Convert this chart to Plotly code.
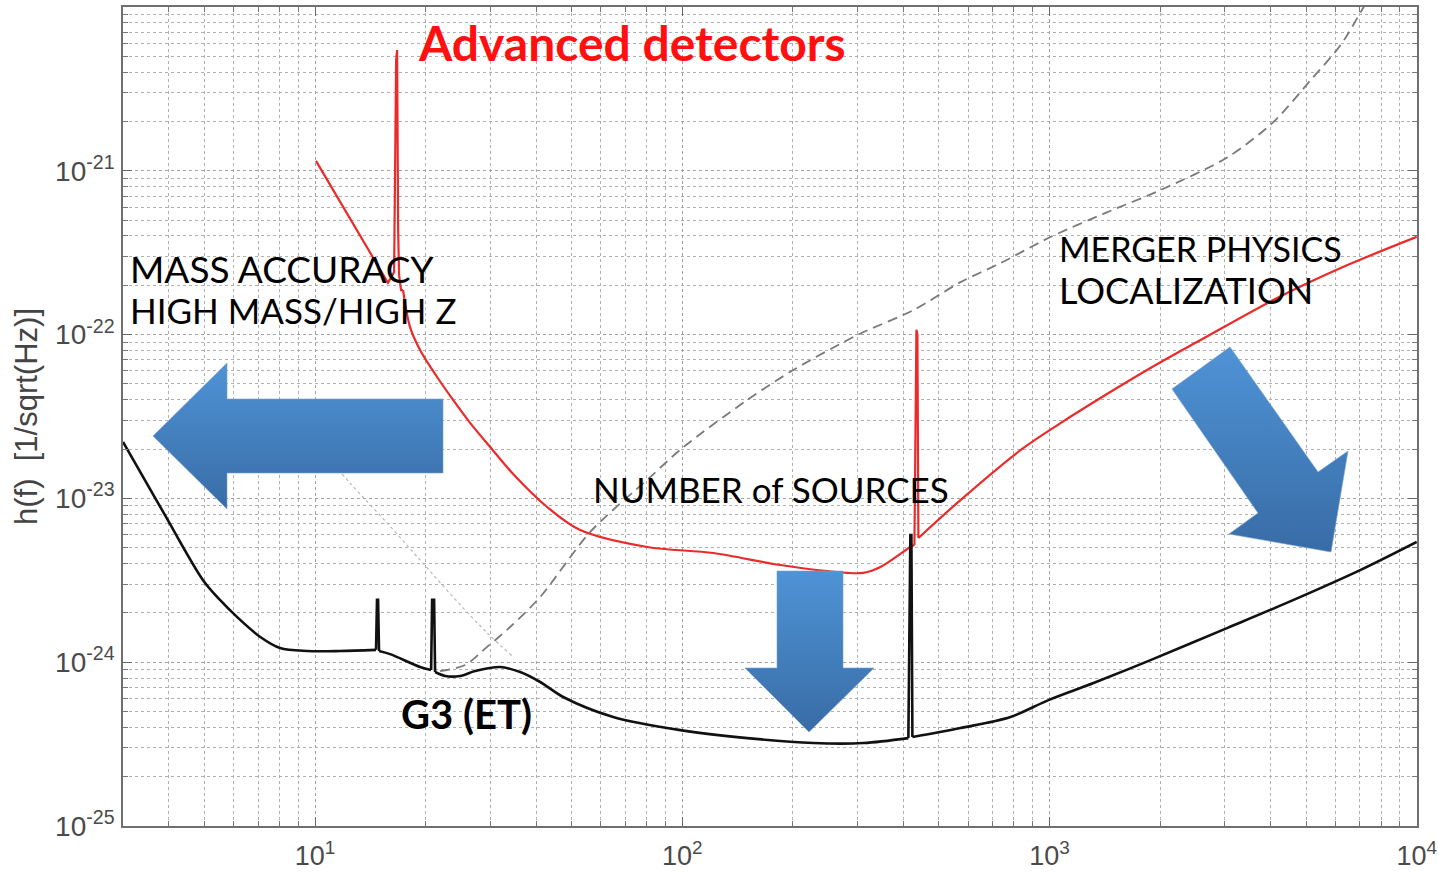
import math
import plotly.graph_objects as go

# ---------------- data ----------------
# Advanced detectors (red)
freq_adv = [10.06, 15.8, 16.42, 16.63, 16.73, 16.78, 16.84, 16.94, 17.15, 17.37, 18.15,
            19.32, 21.5, 23.77, 26.44, 29.99, 34.63, 42.87, 52.74, 80.3, 121.5, 184.9,
            281.6, 311.3, 346.4, 418.0, 428.8, 434.2, 436.9, 439.6, 572.3, 833.7,
            1071.5, 1377, 1884, 2578, 4077, 6207, 10000]
h_adv = [1.15e-21, 2.07e-22, 2.41e-22, 4.74e-21, 5.46e-21, 6.64e-22, 4.36e-22, 2.31e-22,
         1.87e-22, 1.87e-22, 1.11e-22, 8.05e-23, 5.51e-23, 3.99e-23, 2.89e-23, 2.06e-23,
         1.41e-23, 8.86e-24, 6.41e-24, 5.05e-24, 4.64e-24, 3.92e-24, 3.51e-24, 3.51e-24,
         3.81e-24, 5.05e-24, 5.19e-24, 1.07e-22, 9.95e-23, 5.73e-24, 9.77e-24, 1.97e-23,
         2.88e-23, 4.10e-23, 6.25e-23, 9.26e-23, 1.63e-22, 2.55e-22, 3.95e-22]
# index ranges drawn as straight segments (spikes); the rest is drawn smooth
spikes_adv = [(0, 9), (26, 29)]

# G3 (ET) (black)
freq_et = [3.0, 3.9, 4.95, 5.51, 6.13, 7.08, 8.03, 9.51, 11.7, 14.66, 14.75, 14.85, 14.94,
           16.01, 19.32, 20.71, 20.84, 21.1, 21.23, 22.61, 24.84, 27.29, 31.92, 36.2,
           41.03, 47.4, 64.86, 98.76, 150.3, 227.5, 311.3, 412.8, 418.0, 420.7, 423.4,
           572.3, 782.9, 993.7, 1318, 1884, 3055, 4623, 7039, 10000]
h_et = [2.21e-23, 7.93e-24, 3.18e-24, 2.40e-24, 1.89e-24, 1.43e-24, 1.22e-24, 1.17e-24,
        1.17e-24, 1.19e-24, 2.40e-24, 2.40e-24, 1.17e-24, 1.12e-24, 9.35e-25, 8.96e-25,
        2.40e-24, 2.40e-24, 8.71e-25, 8.24e-25, 8.24e-25, 8.83e-25, 9.35e-25, 8.71e-25,
        7.57e-25, 6.13e-25, 4.63e-25, 3.85e-25, 3.44e-25, 3.21e-25, 3.21e-25, 3.44e-25,
        5.98e-24, 5.98e-24, 3.49e-25, 3.96e-25, 4.63e-25, 5.87e-25, 7.46e-25, 1.03e-24,
        1.62e-24, 2.40e-24, 3.66e-24, 5.42e-24]
spikes_et = [(9, 12), (15, 18), (31, 34)]

# grey dashed curve
freq_dash = [21.91, 25.63, 29.42, 33.98, 41.03, 56.15, 81.81, 100.0, 150.3, 200.7, 299.9,
             426.1, 572.3, 735.4, 1006, 1421, 2007, 3055, 4077, 5143, 6207, 7172, 7492]
h_dash = [8.83e-25, 9.61e-25, 1.24e-24, 1.64e-24, 2.50e-24, 6.24e-24, 1.35e-23, 2.03e-23,
          3.99e-23, 6.08e-23, 9.95e-23, 1.41e-22, 2.09e-22, 2.73e-22, 3.94e-22, 5.53e-22,
          7.63e-22, 1.21e-21, 1.99e-21, 3.58e-21, 5.86e-21, 1.0e-20, 1.18e-20]

# faint dotted curve
freq_dot = [10.99, 12.46, 15.71, 19.32, 23.77, 29.42, 34.63]
h_dot = [1.71e-23, 1.24e-23, 7.08e-24, 4.21e-24, 2.50e-24, 1.51e-24, 1.08e-24]

# axis ticks
x_tick_vals = [10, 100, 1000, 10000]
x_tick_text = ["10<sup>1</sup>", "10<sup>2</sup>", "10<sup>3</sup>", "10<sup>4</sup>"]
y_tick_vals = [1e-25, 1e-24, 1e-23, 1e-22, 1e-21]
y_tick_text = ["10<sup>-25</sup>", "10<sup>-24</sup>", "10<sup>-23</sup>",
               "10<sup>-22</sup>", "10<sup>-21</sup>"]
x_minor = [m * 10 ** k for k in range(0, 4) for m in range(2, 10) if 3 <= m * 10 ** k <= 10000]
y_minor = [m * 10.0 ** k for k in range(-25, -20) for m in range(2, 10)]

# ---------------- decorative arrow geometry (pixel frame of the plot) ----------------
arrow_left = ([153, 227, 227, 443, 443, 227, 227, 153],
              [436, 363, 399, 399, 473, 473, 509, 436])
arrow_down = ([777, 843, 843, 874, 809, 745, 777, 777],
              [571, 571, 668, 668, 732, 668, 668, 571])
arrow_diag = ([1172, 1230, 1318, 1348, 1331, 1229, 1258, 1172],
              [389, 347, 472, 451, 552, 534, 513, 389])

fig = go.Figure()


def add_curve(xs, ys, straight, color, width):
    """Draw a curve: the listed index ranges straight (spikes), the rest smoothed."""
    cuts = []
    pos = 0
    for a, b in straight:
        if a > pos:
            cuts.append((pos, a, "spline"))
        cuts.append((a, b, "linear"))
        pos = b
    if pos < len(xs) - 1:
        cuts.append((pos, len(xs) - 1, "spline"))
    for a, b, shape in cuts:
        fig.add_trace(go.Scatter(x=xs[a:b + 1], y=ys[a:b + 1], mode="lines",
                                 line=dict(color=color, width=width, shape=shape,
                                           smoothing=0.9),
                                 hoverinfo="skip", showlegend=False))


fig.add_trace(go.Scatter(x=freq_dot, y=h_dot, mode="lines",
                         line=dict(color="#b8b8b8", width=1.2, dash="dot", shape="spline"),
                         hoverinfo="skip", showlegend=False))
fig.add_trace(go.Scatter(x=freq_dash, y=h_dash, mode="lines",
                         line=dict(color="#7a7a7a", width=1.8, dash="10px,6px",
                                   shape="spline", smoothing=0.8),
                         hoverinfo="skip", showlegend=False))
add_curve(freq_adv, h_adv, spikes_adv, "#ec2a2a", 2.2)
add_curve(freq_et, h_et, spikes_et, "#111111", 2.6)

for ax, ay in (arrow_left, arrow_down, arrow_diag):
    fig.add_trace(go.Scatter(
        x=ax, y=ay, xaxis="x2", yaxis="y2", mode="lines", fill="toself",
        line=dict(color="rgba(120,160,210,0.6)", width=1),
        fillgradient=dict(type="vertical",
                          colorscale=[[0, "#386ca6"], [1, "#4f93d6"]]),
        hoverinfo="skip", showlegend=False))

tick_font = dict(family="Liberation Sans, Arial", size=27, color="#4a4a4a")
grid_common = dict(gridcolor="#a0a0a0", griddash="dot", gridwidth=1)

fig.update_layout(
    width=1438, height=872,
    margin=dict(l=123, r=21, t=7, b=46),
    paper_bgcolor="white", plot_bgcolor="white",
    xaxis=dict(type="log", range=[math.log10(3), 4.0008], automargin=False,
               tickvals=x_tick_vals, ticktext=x_tick_text, tickfont=tick_font,
               ticks="inside", ticklen=9, tickwidth=1.2, tickcolor="#666",
               showline=True, linecolor="#707070", linewidth=1.6, mirror="ticks",
               showgrid=True, **grid_common, zeroline=False,
               ticklabelstandoff=5,
               minor=dict(tickvals=x_minor, ticks="inside", ticklen=5, tickcolor="#777",
                          showgrid=True, gridcolor="#b0b0b0", griddash="dot", gridwidth=1)),
    yaxis=dict(type="log", range=[-25, -20], automargin=False,
               tickvals=y_tick_vals, ticktext=y_tick_text,
               tickfont=dict(family="Liberation Sans, Arial", size=28, color="#4a4a4a"),
               ticks="inside", ticklen=9, tickwidth=1.2, tickcolor="#666",
               showline=True, linecolor="#707070", linewidth=1.6, mirror="ticks",
               showgrid=True, **grid_common, zeroline=False,
               ticklabelstandoff=1,
               title=dict(text="h(f)\u00a0\u00a0[1/sqrt(Hz)]",
                          font=dict(family="Liberation Sans, Arial", size=31, color="#444"),
                          standoff=8),
               minor=dict(tickvals=y_minor, ticks="inside", ticklen=5, tickcolor="#777",
                          showgrid=True, gridcolor="#b0b0b0", griddash="dot", gridwidth=1)),
    xaxis2=dict(overlaying="x", range=[123, 1417], visible=False, fixedrange=True),
    yaxis2=dict(overlaying="y", range=[826, 7], visible=False, fixedrange=True),
)

label_font = "Lato, Noto Sans, sans-serif"
annotations = [
    ("Advanced detectors", 416, 42, 48, "#ff1010", 700),
    ("MASS ACCURACY", 128, 268, 37, "#000", 400),
    ("HIGH MASS/HIGH Z", 128, 310, 35, "#000", 400),
    ("NUMBER of SOURCES", 591, 489, 35, "#000", 400),
    ("MERGER PHYSICS", 1057, 248, 34, "#000", 400),
    ("LOCALIZATION", 1057, 290, 36, "#000", 400),
    ("G3 (ET)", 399, 714, 40, "#000", 700),
]
for text, ax_, ay_, size, color, weight in annotations:
    fig.add_annotation(text=text, x=ax_, y=ay_, xref="x2", yref="y2",
                       xanchor="left", yanchor="middle", showarrow=False,
                       font=dict(family=label_font, size=size, color=color, weight=weight))

fig.write_html("out.html")
